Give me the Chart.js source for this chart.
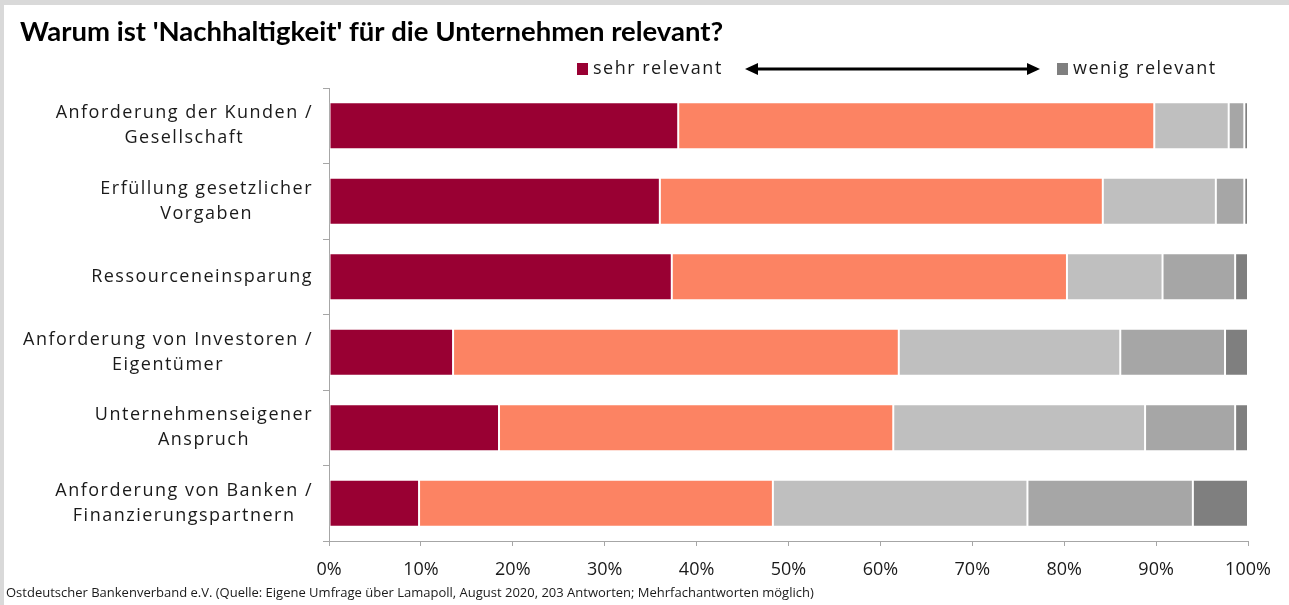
<!DOCTYPE html>
<html lang="de">
<head>
<meta charset="utf-8">
<title>Warum ist 'Nachhaltigkeit' für die Unternehmen relevant?</title>
<script src="https://cdn.jsdelivr.net/npm/chart.js@4.4.1/dist/chart.umd.min.js"></script>
<style>
  html, body { margin: 0; padding: 0; background: #d9d9d9; overflow: hidden; }
  #frame { position: absolute; left: 4px; top: 5px; width: 1285px; height: 600px; background: #fff; }
</style>
</head>
<body>
<div id="frame"><canvas id="relevanzChart" width="1285" height="600"></canvas></div>
<script>
// Gründe, Anteile in % (Stufen von "sehr relevant" bis "wenig relevant")
const categories = [
  ['Anforderung der Kunden /', 'Gesellschaft'],
  ['Erfüllung gesetzlicher', 'Vorgaben'],
  ['Ressourceneinsparung'],
  ['Anforderung von Investoren /', 'Eigentümer'],
  ['Unternehmenseigener', 'Anspruch'],
  ['Anforderung von Banken /', 'Finanzierungspartnern']
];
const stufe1 = [38.0, 36.0, 37.3, 13.5, 18.5, 9.8];
const stufe2 = [51.8, 48.2, 43.0, 48.5, 42.9, 38.5];
const stufe3 = [8.1, 12.3, 10.4, 24.1, 27.4, 27.7];
const stufe4 = [1.7, 3.1, 7.9, 11.4, 9.8, 18.0];
const stufe5 = [0.4, 0.4, 1.4, 2.5, 1.4, 6.0];
const xTickValues = [0, 10, 20, 30, 40, 50, 60, 70, 80, 90, 100];

const titleText = "Warum ist 'Nachhaltigkeit' für die Unternehmen relevant?";
const legendLeft = 'sehr relevant';
const legendRight = 'wenig relevant';
const sourceText = 'Ostdeutscher Bankenverband e.V. (Quelle: Eigene Umfrage über Lamapoll, August 2020, 203 Antworten; Mehrfachantworten möglich)';

const colors = ['#990033', '#fc8363', '#bfbfbf', '#a6a6a6', '#7f7f7f'];
const axisColor = '#a6a6a6';

function makeSet(label, data, i) {
  return {
    label: label,
    data: data,
    backgroundColor: colors[i],
    borderColor: 'rgba(255,255,255,0.35)',
    borderWidth: 1,
    borderSkipped: false,
    categoryPercentage: 1,
    barPercentage: 0.625
  };
}

// Kategorie-Beschriftungen: Block rechtsbündig, Zeilen zentriert
const categoryLabels = {
  id: 'categoryLabels',
  afterDraw(chart) {
    const ctx = chart.ctx;
    const yScale = chart.scales.y;
    const right = chart.chartArea.left - 16;
    const lineH = 25;
    ctx.save();
    ctx.font = '18px "Open Sans"';
    ctx.letterSpacing = '1.5px';
    ctx.fillStyle = '#1a1a1a';
    ctx.textAlign = 'center';
    ctx.textBaseline = 'middle';
    categories.forEach((lines, i) => {
      const cy = yScale.getPixelForValue(i);
      const w = Math.max(...lines.map(l => ctx.measureText(l).width));
      const cx = right - w / 2;
      lines.forEach((line, j) => {
        const y = cy + (j - (lines.length - 1) / 2) * lineH;
        ctx.fillText(line, cx, y);
      });
    });
    ctx.restore();
  }
};

// Legende mit Doppelpfeil und Quellenangabe
const extras = {
  id: 'extras',
  afterDraw(chart) {
    const ctx = chart.ctx;
    ctx.save();
    const ly = 64;
    ctx.font = '18px "Open Sans"';
    ctx.letterSpacing = '1.5px';
    ctx.fillStyle = '#1a1a1a';
    ctx.textBaseline = 'middle';
    ctx.textAlign = 'left';

    ctx.fillStyle = colors[0];
    ctx.fillRect(573, ly - 6, 11, 12);
    ctx.fillStyle = '#1a1a1a';
    ctx.fillText(legendLeft, 589, ly);

    ctx.fillStyle = colors[4];
    ctx.fillRect(1053, ly - 6, 11, 12);
    ctx.fillStyle = '#1a1a1a';
    ctx.fillText(legendRight, 1069, ly);

    // Doppelpfeil
    const x1 = 741, x2 = 1036;
    ctx.strokeStyle = '#000';
    ctx.fillStyle = '#000';
    ctx.lineWidth = 3;
    ctx.beginPath();
    ctx.moveTo(x1 + 8, ly);
    ctx.lineTo(x2 - 8, ly);
    ctx.stroke();
    ctx.beginPath();
    ctx.moveTo(x1, ly);
    ctx.lineTo(x1 + 13, ly - 6);
    ctx.lineTo(x1 + 13, ly + 6);
    ctx.closePath();
    ctx.fill();
    ctx.beginPath();
    ctx.moveTo(x2, ly);
    ctx.lineTo(x2 - 13, ly - 6);
    ctx.lineTo(x2 - 13, ly + 6);
    ctx.closePath();
    ctx.fill();

    ctx.letterSpacing = '0px';
    ctx.font = '13px "Open Sans"';
    ctx.fillStyle = '#1a1a1a';
    ctx.fillText(sourceText, 2, 588);
    ctx.restore();
  }
};

new Chart(document.getElementById('relevanzChart'), {
  type: 'bar',
  data: {
    labels: categories,
    datasets: [
      makeSet('sehr relevant', stufe1, 0),
      makeSet('relevant', stufe2, 1),
      makeSet('teils relevant', stufe3, 2),
      makeSet('eher weniger relevant', stufe4, 3),
      makeSet('wenig relevant', stufe5, 4)
    ]
  },
  options: {
    indexAxis: 'y',
    responsive: false,
    animation: false,
    layout: { padding: { left: 16, right: 41, top: 0, bottom: 0 } },
    plugins: {
      legend: { display: false },
      tooltip: { enabled: false },
      title: {
        display: true,
        text: titleText,
        align: 'start',
        color: '#000',
        font: { family: 'Lato', size: 27.5, weight: 'bold' },
        padding: { top: 11, bottom: 39 }
      }
    },
    scales: {
      x: {
        stacked: true,
        min: 0,
        max: 100,
        afterBuildTicks: scale => { scale.ticks = xTickValues.map(v => ({ value: v })); },
        afterFit: scale => { scale.height = 64; },
        ticks: {
          callback: v => v + '%',
          color: '#1a1a1a',
          font: { family: 'Open Sans', size: 18 },
          padding: 13,
          maxRotation: 0
        },
        grid: { drawOnChartArea: false, tickLength: 5, color: axisColor },
        border: { color: axisColor, width: 1 }
      },
      y: {
        stacked: true,
        afterFit: scale => { scale.width = 309; },
        ticks: { display: false },
        grid: { drawOnChartArea: false, tickLength: 6, color: axisColor, offset: true },
        border: { color: axisColor, width: 1 }
      }
    }
  },
  plugins: [categoryLabels, extras]
});
</script>
</body>
</html>
